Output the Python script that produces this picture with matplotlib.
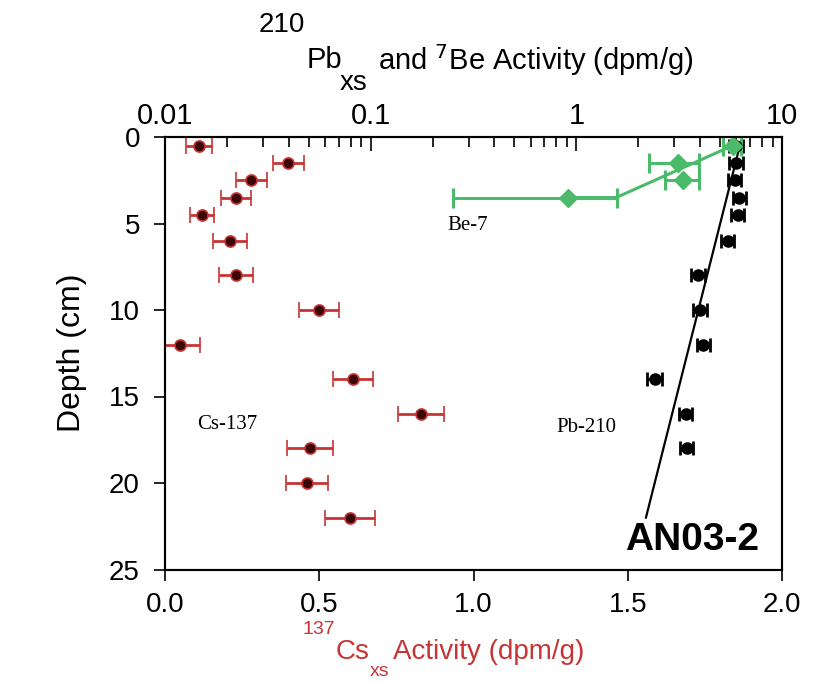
import numpy as np
import matplotlib
matplotlib.use("Agg")
import matplotlib.pyplot as plt
from matplotlib.ticker import LogLocator, NullFormatter

# Cs-137 (bottom, linear axis)
cs_depth = [0.5, 1.5, 2.5, 3.5, 4.5, 6, 8, 10, 12, 14, 16, 18, 20, 22]
cs_act = [0.11, 0.40, 0.28, 0.23, 0.12, 0.21, 0.23, 0.50, 0.05, 0.61, 0.83, 0.47, 0.46, 0.60]
cs_err = [0.043, 0.051, 0.051, 0.050, 0.040, 0.055, 0.055, 0.065, 0.062, 0.065, 0.074, 0.075, 0.067, 0.082]

# Pb-210 (top, log axis)
pb_depth = [0.5, 1.5, 2.5, 3.5, 4.5, 6, 8, 10, 12, 14, 16, 18]
pb_act = [6.0, 6.0, 5.9, 6.2, 6.1, 5.45, 3.9, 4.0, 4.15, 2.4, 3.4, 3.45]
pb_err = [0.45, 0.45, 0.45, 0.45, 0.45, 0.4, 0.3, 0.3, 0.3, 0.2, 0.25, 0.25]
pb_fit_depth = [0.3, 22.0]
pb_fit_act = [6.3, 2.18]

# Be-7 (top, log axis)
be_depth = [0.5, 1.5, 2.5, 3.5]
be_act = [5.75, 3.11, 3.31, 0.91]
be_err = [0.6, 0.86, 0.62, 0.66]
be_line_depth = [3.5, 3.5, 0.5]
be_line_act = [0.91, 1.56, 5.75]

plt.rcParams['font.family'] = ['Liberation Sans', 'DejaVu Sans']

red = "#c83434"
green = "#4cba6b"

fig = plt.figure(figsize=(8.4, 6.83), dpi=100)
ax = fig.add_axes([165/840, 1-569.5/683, (782-165)/840, (569.5-137)/683])
ax2 = ax.twiny()

ax.errorbar(cs_act, cs_depth, xerr=cs_err, fmt='o', color=red, ecolor=red,
            mfc="#3a0606", mec=red, mew=1.2, ms=8, elinewidth=2, capsize=6, capthick=2)

ax2.plot(pb_fit_act, pb_fit_depth, color='black', lw=1.6)
ax2.errorbar(pb_act, pb_depth, xerr=pb_err, fmt='o', color='black', ms=8,
             elinewidth=2, capsize=5, capthick=2)
ax2.plot(be_line_act, be_line_depth, color=green, lw=2.2)
ax2.errorbar(be_act, be_depth, xerr=be_err, fmt='D', color=green, ms=9,
             elinewidth=2.2, capsize=7, capthick=2.2)

ax.set_xlim(0, 2.0)
ax.set_ylim(25, 0)
ax.set_xticks([0.0, 0.5, 1.0, 1.5, 2.0])
ax.set_xticklabels(['0.0', '0.5', '1.0', '1.5', '2.0'])
ax.set_yticks([0, 5, 10, 15, 20, 25])
ax.tick_params(axis='x', direction='out', length=8, width=1.2, labelsize=20, pad=8)
ax.tick_params(axis='y', direction='out', length=8, width=1.2, labelsize=20, pad=10)
ax.set_ylabel('Depth (cm)', fontsize=23, labelpad=16)

ax2.set_xscale('log')
ax2.set_xlim(0.01, 10)
ax2.set_xticks([0.01, 0.1, 1, 10])
ax2.set_xticklabels(['0.01', '0.1', '1', '10'])
ax2.xaxis.set_minor_locator(LogLocator(base=10, subs=np.arange(2, 10)))
ax2.xaxis.set_minor_formatter(NullFormatter())
ax2.tick_params(axis='x', which='major', direction='in', length=10, width=1.2, labelsize=21, pad=5)
ax2.tick_params(axis='x', which='minor', direction='in', length=7, width=1.2)

for a in (ax, ax2):
    for s in a.spines.values():
        s.set_linewidth(1.5)

# top axis title pieces
fig.text(282/840, 1-25/683, '210', fontsize=20, ha='center', va='center')
fig.text(324/840, 1-60/683, 'Pb', fontsize=21, ha='center', va='center')
fig.text(354/840, 1-83/683, 'xs', fontsize=20, ha='center', va='center')
fig.text(378/840, 1-60/683, r'and $^{7}$Be Activity (dpm/g)', fontsize=21, ha='left', va='center')

# bottom axis title pieces
fig.text(319/840, 1-630/683, '137', fontsize=14, color=red, ha='center', va='center')
fig.text(353/840, 1-652/683, 'Cs', fontsize=20, color=red, ha='center', va='center')
fig.text(380/840, 1-672/683, 'xs', fontsize=14, color=red, ha='center', va='center')
fig.text(393/840, 1-652/683, 'Activity (dpm/g)', fontsize=20, color=red, ha='left', va='center')

serif = ['Liberation Serif', 'DejaVu Serif']
ax.text(0.914, 5.1, 'Be-7', fontsize=15, family=serif, va='center')
ax.text(0.104, 16.6, 'Cs-137', fontsize=15, family=serif, va='center')
ax.text(1.27, 16.8, 'Pb-210', fontsize=15, family=serif, va='center')
ax.text(1.49, 23.3, 'AN03-2', fontsize=28, fontweight='bold', va='center')

fig.savefig('out.png', dpi=100)
